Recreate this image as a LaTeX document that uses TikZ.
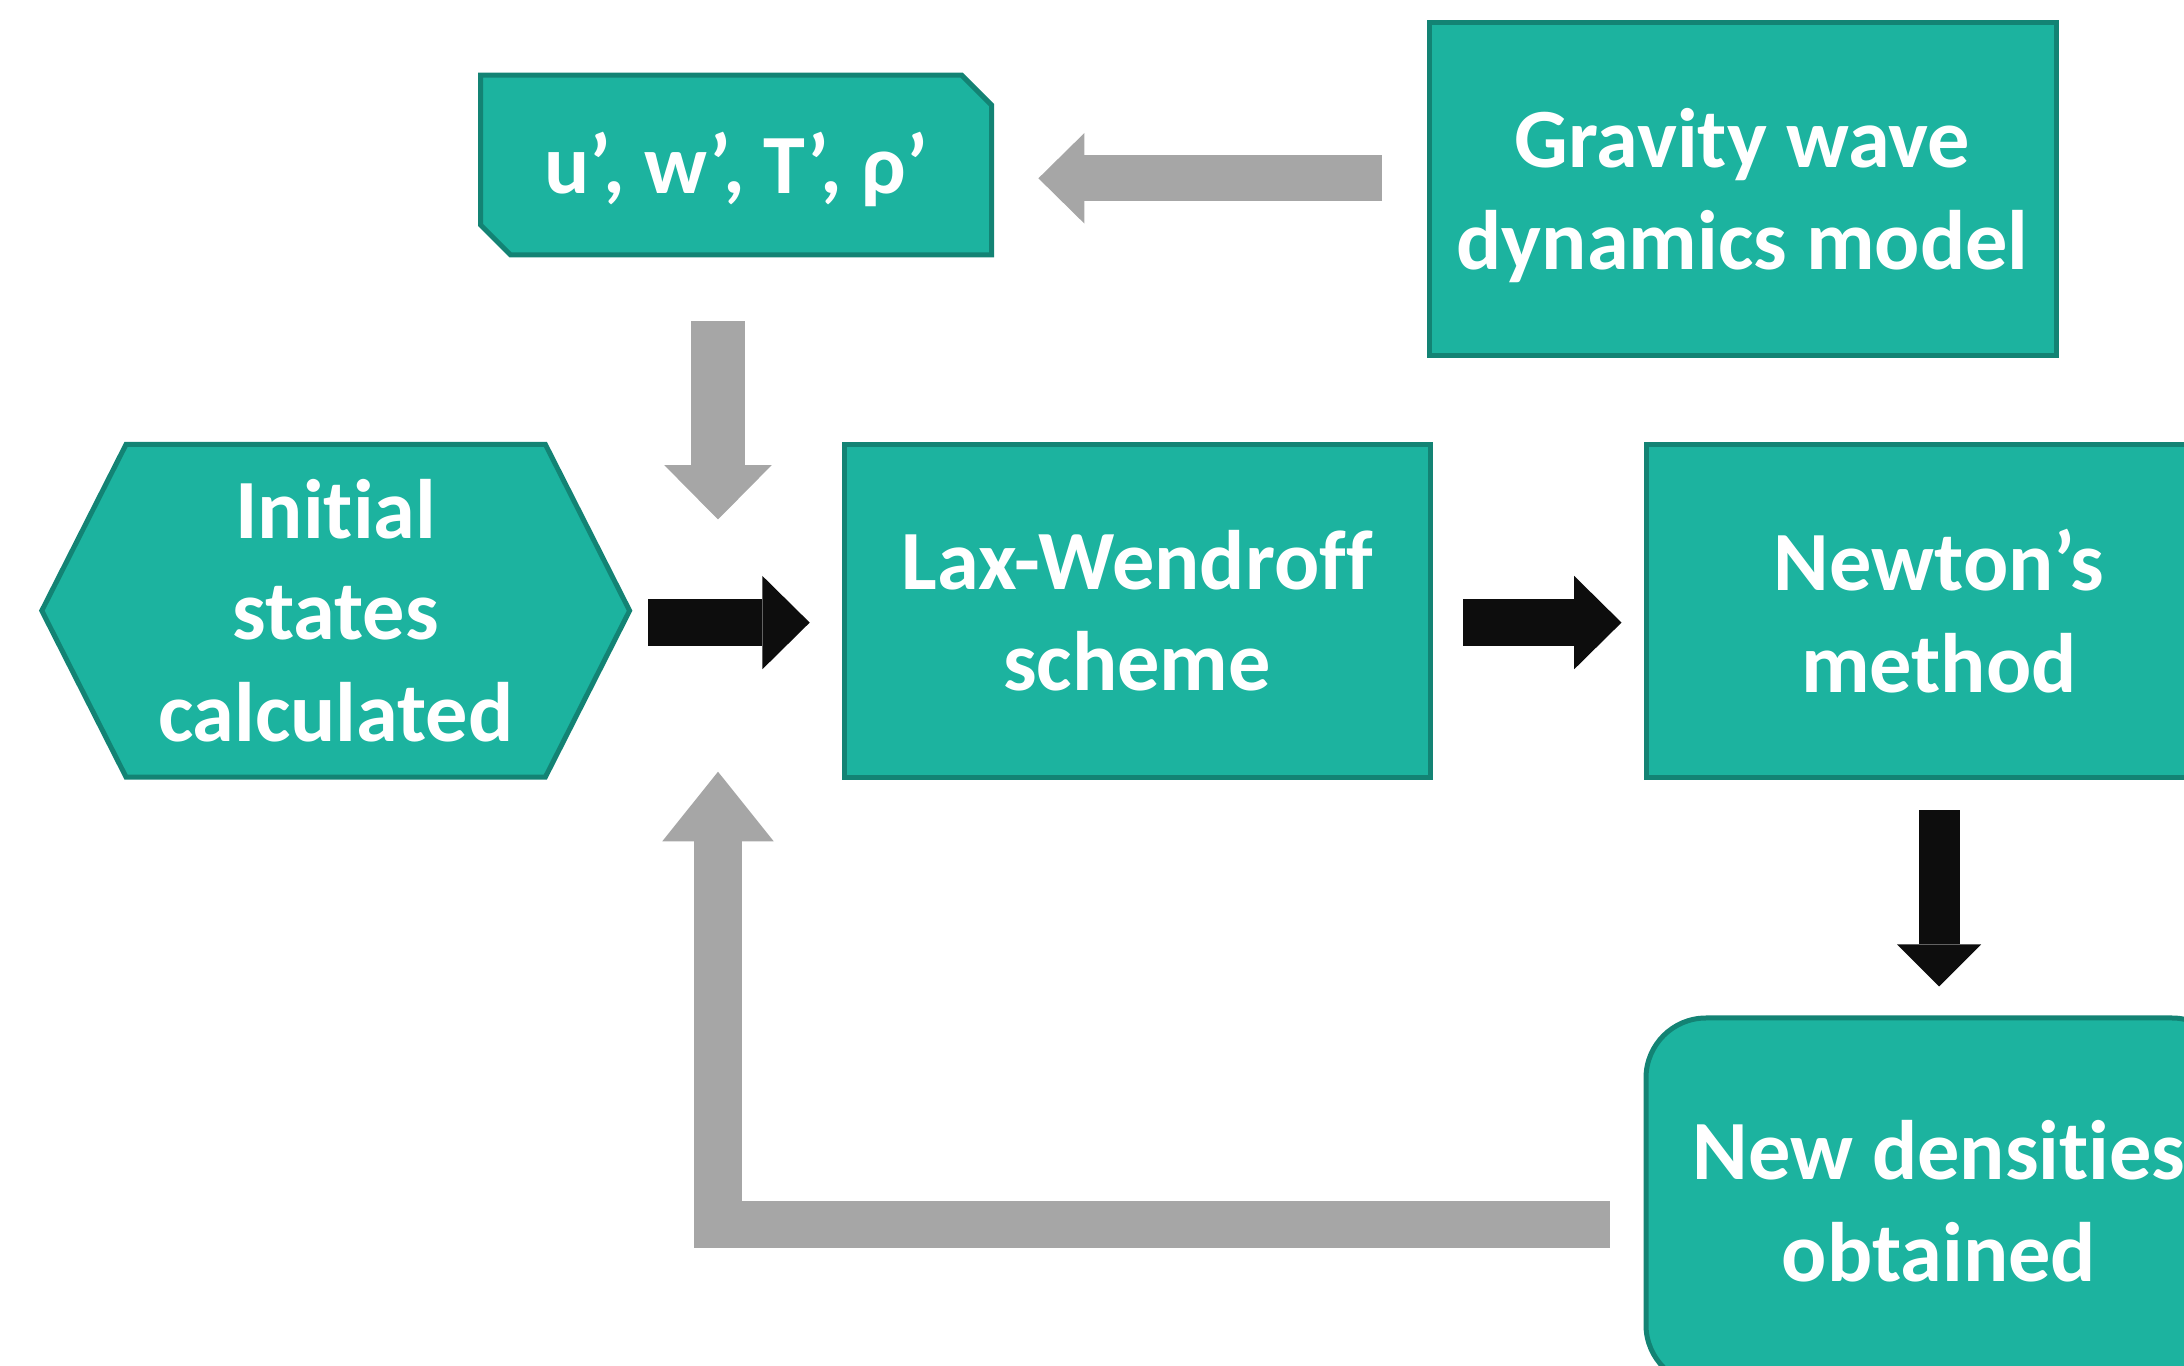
\documentclass[tikz,border=0pt]{standalone}
\usepackage{fontspec}
\setmainfont{Carlito}[Ligatures=NoCommon]
\usetikzlibrary{arrows.meta}

\definecolor{boxfill}{RGB}{28,179,159}
\definecolor{boxedge}{RGB}{19,131,116}
\definecolor{flowgray}{RGB}{166,166,166}
\definecolor{flowblack}{RGB}{13,13,13}

\tikzset{
  box/.style={fill=boxfill, draw=boxedge, line width=0.05cm},
  txt/.style={text=white, font=\bfseries\fontsize{24}{29}\selectfont, align=center, inner sep=0pt},
  block/.style={box, txt, minimum width=5.86cm, minimum height=3.33cm},
  grayflow/.style={draw=flowgray},
  blackflow/.style={draw=flowblack},
  fat/.style n args={3}{line width=#1, -{Triangle[width=#2, length=#3, line width=0pt]}}
}

\begin{document}
\begin{tikzpicture}
        \useasboundingbox (0,0) rectangle (21.84,-13.66);
        \clip (0,0) rectangle (21.84,-13.66);

        % Formes dessinees a la main
        \filldraw[box] (4.806,-0.752) -- (9.617,-0.752) -- (9.917,-1.052) -- (9.917,-2.549)
                -- (5.106,-2.549) -- (4.806,-2.249) -- cycle;
        \filldraw[box] (0.418,-6.107) -- (1.261,-4.443) -- (5.453,-4.443) -- (6.296,-6.107)
                -- (5.453,-7.772) -- (1.261,-7.772) -- cycle;

        % Blocs
        \node[txt, text depth=0.1em, minimum width=5.11cm, minimum height=1.8cm] (uw) at (7.362,-1.65) {u’, w’, T’, ρ’};
        \node[txt, minimum width=5.878cm, minimum height=3.33cm] (init) at (3.357,-6.107) {Initial\\states\\calculated};
        \node[block, minimum width=6.27cm] (gw) at (17.425,-1.888) {Gravity wave\\\raisebox{0pt}[\height][0pt]{dynamics model}};
        \node[block] (lax) at (11.372,-6.107) {Lax-Wendroff\\scheme};
        \node[block] (newton) at (19.39,-6.107) {Newton’s\\method};
        \node[block, minimum height=3.67cm, rounded corners=6mm] (dens) at (19.39,-12.015) {New densities\\obtained};
        \coordinate (mix) at (7.18,-6.107);

        % Fleches grises
        \draw[grayflow, fat={0.46cm}{0.906cm}{0.46cm}, shorten <=0.445cm, shorten >=0.46cm]
                ([yshift=1.05mm]gw.west) -- ([yshift=1.05mm]gw.west -| uw.east);
        \draw[grayflow, fat={0.543cm}{1.073cm}{0.543cm}, shorten <=0.655cm, shorten >=0.912cm]
                (uw.south -| mix) -- (mix);
        \draw[grayflow, fat={0.475cm}{1.114cm}{0.696cm}, shorten <=0.34cm, shorten >=1.61cm]
                ([yshift=-2.3mm]dens.west) -| (mix);

        % Fleches noires
        \draw[blackflow, fat={0.473cm}{0.933cm}{0.473cm}, shorten <=0.181cm, shorten >=0.32cm]
                ([yshift=-1.19mm]init.east) -- ([yshift=-1.19mm]lax.west);
        \draw[blackflow, fat={0.473cm}{0.933cm}{0.473cm}, shorten <=0.305cm, shorten >=0.22cm]
                ([yshift=-1.19mm]lax.east) -- ([yshift=-1.19mm]newton.west);
        \draw[blackflow, fat={0.41cm}{0.84cm}{0.42cm}, shorten <=0.307cm, shorten >=0.29cm]
                (newton.south) -- (dens.north);
\end{tikzpicture}
\end{document}
